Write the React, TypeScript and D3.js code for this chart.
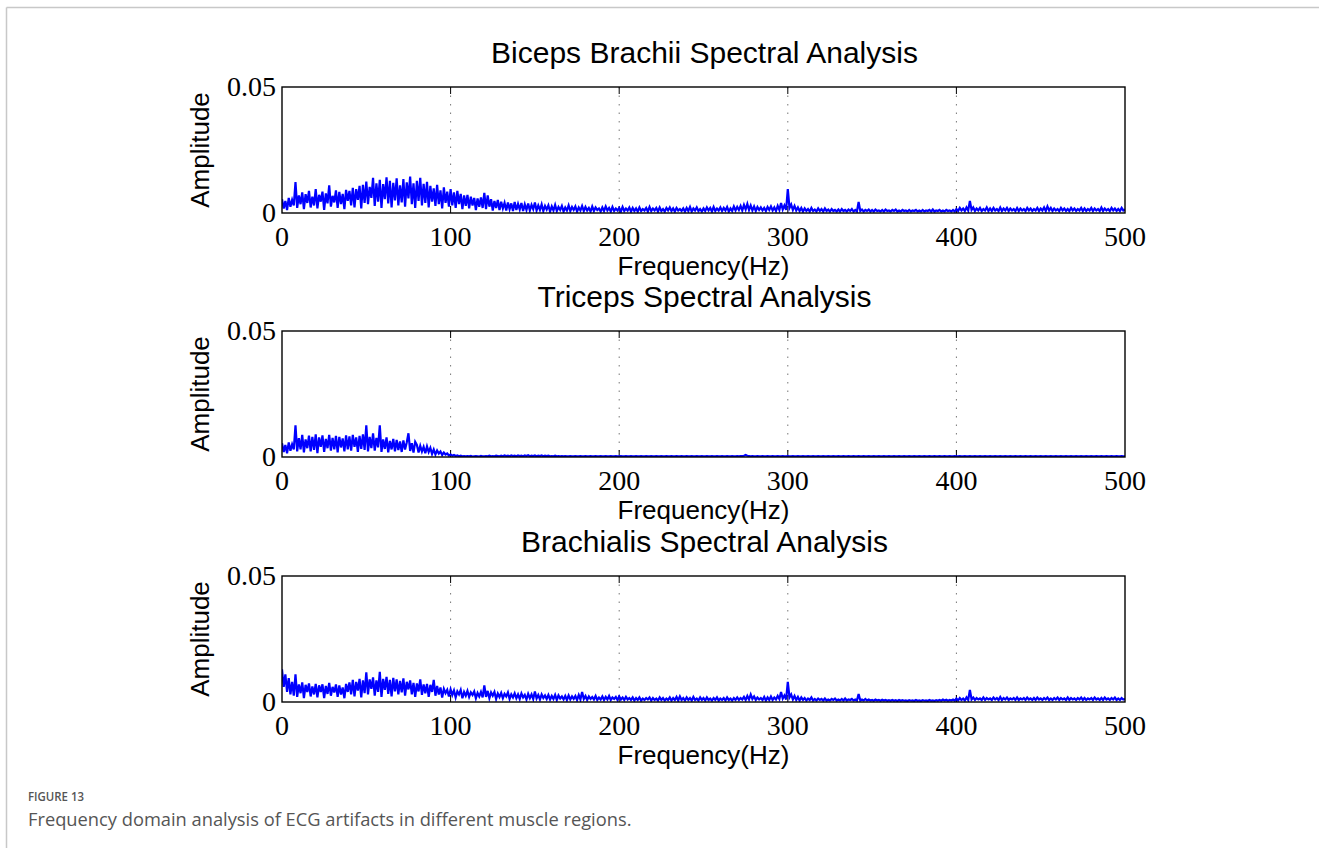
import React from "react";
import * as d3 from "d3";

// amplitude spectra, one value per Hz (0..500), in units of 1e-4
const bicepsAmp = [
  55, 18, 48, 12, 60, 25, 52, 30, 123, 20,
  70, 35, 82, 15, 75, 40, 88, 22, 65, 30,
  95, 18, 72, 45, 85, 12, 78, 38, 110, 25,
  68, 42, 90, 20, 84, 35, 76, 15, 92, 48,
  88, 30, 100, 22, 95, 52, 108, 18, 112, 40,
  125, 35, 104, 60, 140, 28, 118, 45, 132, 20,
  115, 55, 142, 38, 128, 22, 120, 50, 138, 30,
  110, 42, 135, 25, 122, 58, 145, 35, 118, 20,
  128, 48, 140, 30, 116, 40, 124, 22, 108, 45,
  98, 28, 112, 35, 90, 18, 102, 40, 85, 25,
  95, 30, 82, 20, 88, 35, 76, 15, 70, 28,
  72, 18, 65, 30, 60, 12, 58, 25, 62, 20,
  80, 15, 70, 25, 55, 10, 48, 20, 52, 12,
  45, 18, 40, 10, 42, 15, 38, 8, 44, 12,
  36, 14, 40, 8, 34, 12, 38, 10, 32, 15,
  42, 10, 30, 12, 34, 8, 28, 14, 30, 6,
  26, 10, 32, 8, 24, 12, 28, 6, 22, 10,
  30, 8, 24, 12, 26, 6, 22, 10, 28, 8,
  24, 10, 20, 6, 26, 8, 22, 12, 18, 6,
  22, 8, 26, 10, 20, 6, 24, 8, 18, 10,
  20, 6, 24, 8, 18, 10, 22, 6, 20, 8,
  18, 6, 22, 8, 16, 10, 20, 6, 24, 8,
  18, 10, 20, 6, 22, 8, 16, 6, 20, 10,
  22, 8, 18, 6, 20, 10, 16, 8, 18, 6,
  20, 8, 24, 6, 18, 10, 22, 8, 16, 6,
  18, 8, 22, 10, 20, 6, 24, 8, 18, 10,
  22, 8, 20, 10, 24, 6, 18, 8, 26, 10,
  24, 12, 28, 10, 32, 14, 36, 12, 30, 10,
  26, 8, 24, 12, 22, 10, 20, 8, 24, 12,
  26, 10, 22, 8, 28, 12, 40, 14, 30, 12,
  95, 20, 34, 12, 28, 10, 22, 8, 20, 6,
  18, 8, 16, 6, 20, 8, 14, 6, 18, 8,
  16, 6, 18, 8, 14, 6, 16, 8, 12, 6,
  14, 6, 16, 8, 12, 6, 14, 8, 16, 6,
  12, 6, 44, 8, 14, 6, 12, 8, 14, 6,
  12, 6, 14, 8, 10, 6, 12, 6, 14, 8,
  10, 6, 12, 8, 14, 6, 10, 6, 12, 8,
  10, 6, 12, 6, 10, 8, 12, 6, 10, 6,
  12, 6, 10, 8, 12, 6, 14, 6, 10, 8,
  12, 6, 10, 6, 12, 8, 10, 6, 12, 6,
  16, 8, 20, 10, 18, 8, 22, 10, 48, 12,
  22, 8, 18, 10, 20, 8, 16, 10, 22, 8,
  18, 8, 20, 10, 16, 8, 22, 8, 18, 10,
  20, 8, 18, 10, 16, 8, 20, 8, 18, 10,
  16, 8, 20, 10, 18, 8, 16, 10, 20, 8,
  18, 10, 22, 8, 26, 10, 20, 8, 18, 10,
  16, 8, 20, 10, 18, 8, 16, 8, 20, 10,
  18, 8, 16, 10, 20, 8, 18, 8, 16, 10,
  20, 8, 18, 10, 16, 8, 22, 8, 18, 10,
  16, 8, 20, 10, 18, 8, 16, 8, 20, 10,
  14,
];

const tricepsAmp = [
  55, 20, 48, 15, 58, 25, 50, 30, 126, 22,
  75, 30, 88, 18, 70, 35, 85, 22, 80, 28,
  90, 15, 78, 40, 86, 20, 72, 35, 88, 25,
  76, 30, 84, 18, 80, 38, 74, 22, 86, 30,
  82, 25, 88, 40, 78, 20, 84, 32, 90, 28,
  126, 22, 80, 35, 94, 25, 76, 38, 126, 20,
  70, 32, 78, 18, 64, 30, 72, 22, 68, 28,
  62, 20, 66, 30, 58, 94, 24, 55, 18, 60,
  48, 18, 44, 22, 40, 15, 42, 20, 36, 12,
  30, 10, 26, 14, 22, 8, 18, 10, 14, 6,
  10, 5, 8, 4, 6, 3, 5, 3, 4, 3,
  4, 3, 4, 2, 3, 4, 3, 2, 4, 3,
  3, 4, 3, 5, 3, 4, 3, 5, 4, 3,
  5, 3, 6, 4, 5, 3, 6, 4, 5, 3,
  6, 4, 5, 3, 6, 4, 7, 3, 5, 4,
  6, 3, 5, 4, 6, 3, 5, 4, 5, 3,
  4, 3, 5, 3, 4, 3, 4, 3, 4, 3,
  3, 4, 3, 3, 4, 3, 3, 4, 3, 3,
  4, 3, 3, 4, 3, 3, 4, 3, 3, 4,
  3, 3, 4, 3, 3, 4, 3, 3, 4, 3,
  3, 4, 3, 3, 4, 3, 3, 4, 3, 3,
  4, 3, 3, 4, 3, 3, 4, 3, 3, 4,
  3, 3, 4, 3, 3, 4, 3, 3, 4, 3,
  3, 4, 3, 3, 4, 3, 3, 4, 3, 3,
  4, 3, 3, 4, 3, 3, 4, 3, 3, 4,
  3, 3, 4, 3, 3, 4, 3, 3, 4, 3,
  3, 4, 3, 3, 4, 3, 3, 4, 3, 3,
  4, 3, 4, 4, 5, 8, 5, 4, 3, 4,
  3, 3, 4, 3, 3, 4, 3, 3, 4, 3,
  3, 4, 3, 3, 4, 3, 3, 4, 3, 3,
  4, 3, 3, 4, 3, 3, 4, 3, 3, 4,
  3, 3, 4, 3, 3, 4, 3, 3, 4, 3,
  3, 4, 3, 3, 4, 3, 3, 4, 3, 3,
  4, 3, 3, 4, 3, 3, 4, 3, 3, 4,
  3, 3, 4, 3, 3, 4, 3, 3, 4, 3,
  3, 4, 3, 3, 4, 3, 3, 4, 3, 3,
  4, 3, 3, 4, 3, 3, 4, 3, 3, 4,
  3, 3, 4, 3, 3, 4, 3, 3, 4, 3,
  3, 4, 3, 3, 4, 3, 3, 4, 3, 3,
  4, 3, 3, 4, 3, 3, 4, 3, 3, 4,
  3, 3, 4, 3, 3, 4, 3, 3, 4, 3,
  3, 4, 3, 3, 4, 3, 3, 4, 3, 3,
  4, 3, 3, 4, 3, 3, 4, 3, 3, 4,
  3, 3, 4, 3, 3, 4, 3, 3, 4, 3,
  3, 4, 3, 3, 4, 3, 3, 4, 3, 3,
  4, 3, 3, 4, 3, 3, 4, 3, 3, 4,
  3, 3, 4, 3, 3, 4, 3, 3, 4, 3,
  3, 4, 3, 3, 4, 3, 3, 4, 3, 3,
  4, 3, 3, 4, 3, 3, 4, 3, 3, 4,
  3, 3, 4, 3, 3, 4, 3, 3, 4, 3,
  3,
];

const brachialisAmp = [
  130, 60, 110, 40, 95, 30, 80, 25, 110, 20,
  70, 35, 78, 15, 68, 40, 74, 22, 62, 30,
  72, 18, 66, 40, 70, 15, 64, 32, 76, 25,
  60, 38, 70, 20, 66, 30, 58, 15, 72, 40,
  78, 30, 88, 22, 80, 45, 92, 18, 86, 35,
  118, 30, 90, 52, 98, 25, 86, 40, 120, 20,
  92, 48, 100, 32, 88, 22, 96, 42, 90, 30,
  84, 38, 94, 25, 80, 50, 86, 30, 76, 20,
  74, 42, 90, 28, 70, 35, 72, 20, 68, 40,
  88, 25, 64, 30, 58, 18, 52, 35, 48, 22,
  50, 28, 46, 18, 42, 30, 48, 15, 40, 25,
  44, 20, 38, 28, 42, 15, 36, 22, 40, 18,
  66, 20, 44, 15, 38, 25, 40, 12, 34, 20,
  36, 15, 32, 22, 38, 12, 30, 18, 34, 15,
  30, 12, 34, 18, 28, 10, 32, 15, 30, 12,
  42, 14, 28, 10, 30, 16, 26, 12, 28, 10,
  24, 12, 28, 8, 26, 14, 22, 10, 24, 8,
  26, 10, 22, 12, 24, 8, 28, 10, 40, 12,
  24, 8, 22, 12, 20, 10, 24, 8, 18, 10,
  22, 8, 20, 10, 24, 8, 18, 12, 20, 8,
  22, 10, 18, 8, 20, 10, 16, 8, 18, 6,
  16, 8, 18, 6, 14, 8, 16, 10, 18, 6,
  16, 8, 14, 6, 18, 8, 16, 6, 14, 8,
  18, 6, 16, 8, 20, 6, 22, 8, 16, 6,
  18, 8, 16, 6, 20, 8, 14, 6, 18, 8,
  16, 6, 18, 8, 14, 6, 16, 8, 18, 6,
  14, 8, 16, 6, 18, 8, 14, 6, 16, 8,
  18, 8, 16, 10, 20, 8, 24, 10, 30, 12,
  22, 8, 18, 10, 16, 8, 20, 6, 18, 8,
  22, 8, 18, 10, 24, 12, 40, 14, 26, 10,
  80, 18, 30, 10, 24, 8, 20, 6, 18, 8,
  16, 6, 14, 8, 18, 6, 12, 6, 14, 8,
  12, 6, 14, 6, 10, 6, 12, 8, 14, 6,
  10, 6, 12, 6, 14, 6, 10, 8, 12, 6,
  10, 6, 32, 6, 10, 6, 12, 6, 10, 6,
  8, 5, 10, 6, 8, 5, 9, 6, 8, 5,
  7, 5, 8, 5, 7, 4, 8, 5, 7, 5,
  6, 4, 7, 5, 6, 4, 8, 5, 6, 4,
  7, 5, 6, 4, 8, 5, 6, 4, 7, 5,
  8, 5, 10, 6, 9, 5, 8, 6, 10, 5,
  14, 6, 16, 8, 14, 6, 18, 8, 48, 10,
  18, 8, 16, 10, 14, 8, 18, 8, 16, 10,
  14, 8, 18, 10, 16, 8, 20, 8, 16, 10,
  18, 8, 14, 10, 16, 8, 18, 8, 14, 10,
  16, 8, 18, 10, 14, 8, 16, 8, 18, 10,
  14, 8, 16, 10, 18, 8, 14, 8, 16, 10,
  18, 8, 16, 10, 14, 8, 18, 8, 16, 10,
  14, 8, 16, 10, 18, 8, 16, 8, 14, 10,
  16, 8, 18, 10, 14, 8, 16, 8, 18, 10,
  14, 8, 16, 10, 18, 8, 14, 8, 16, 10,
  12,
];

const panelTitles = [
  "Biceps Brachii Spectral Analysis",
  "Triceps Spectral Analysis",
  "Brachialis Spectral Analysis",
];
const panelSeries = [bicepsAmp, tricepsAmp, brachialisAmp];
const xTicks = [0, 100, 200, 300, 400, 500];
const yTicks = [0, 0.05];
const ampUnit = 1e-4;

const W = 1319;
const H = 859;
const plotLeft = 282;
const plotRight = 1125;
const plotH = 126;
const panelTops = [87, 331, 576];

const sans = "'Liberation Sans', Arial, sans-serif";
const serif = "'Liberation Serif', 'Times New Roman', serif";

function Panel({ title, values, top, idx }: { title: string; values: number[]; top: number; idx: number }) {
  const x = d3.scaleLinear().domain([0, 500]).range([plotLeft, plotRight]);
  const y = d3.scaleLinear().domain([0, 0.05]).range([top + plotH, top]);
  const line = d3
    .line<number>()
    .x((_, i) => x(i))
    .y((d) => y(d * ampUnit));
  const bottom = top + plotH;
  const mid = (plotLeft + plotRight) / 2;
  return (
    <g>
      <text x={mid + 1} y={top - 24} textAnchor="middle" fontFamily={sans} fontSize={30} fill="#000">
        {title}
      </text>
      <defs>
        <clipPath id={`clip${idx}`}>
          <rect x={plotLeft} y={top} width={plotRight - plotLeft} height={plotH} />
        </clipPath>
      </defs>
      {xTicks.slice(1, -1).map((t) => (
        <g key={t}>
          <line x1={x(t)} x2={x(t)} y1={top} y2={bottom} stroke="#777" strokeWidth={1} strokeDasharray="1.5,7" />
          <line x1={x(t)} x2={x(t)} y1={top} y2={top + 7} stroke="#000" strokeWidth={1} />
          <line x1={x(t)} x2={x(t)} y1={bottom} y2={bottom - 7} stroke="#000" strokeWidth={1} />
        </g>
      ))}
      <path
        d={line(values) ?? ""}
        fill="none"
        stroke="#0000ff"
        strokeWidth={2.2}
        strokeLinejoin="miter"
        clipPath={`url(#clip${idx})`}
      />
      <rect x={plotLeft} y={top} width={plotRight - plotLeft} height={plotH} fill="none" stroke="#000" strokeWidth={1.4} />
      {yTicks.map((t) => (
        <text key={t} x={plotLeft - 6} y={y(t) + 9} textAnchor="end" fontFamily={serif} fontSize={28} fill="#000">
          {t === 0 ? "0" : "0.05"}
        </text>
      ))}
      {xTicks.map((t) => (
        <text key={t} x={x(t)} y={bottom + 33} textAnchor="middle" fontFamily={serif} fontSize={28} fill="#000">
          {t}
        </text>
      ))}
      <text x={mid} y={bottom + 62} textAnchor="middle" fontFamily={sans} fontSize={26} fill="#000">
        Frequency(Hz)
      </text>
      <text
        transform={`translate(209, ${top + plotH / 2}) rotate(-90)`}
        textAnchor="middle"
        fontFamily={sans}
        fontSize={26}
        fill="#000"
      >
        Amplitude
      </text>
    </g>
  );
}

export default function App() {
  return (
    <svg
      width={W}
      height={H}
      style={{ position: "absolute", left: 0, top: 0, background: "#fff" }}
    >
      <line x1={6.5} x2={W} y1={7.5} y2={7.5} stroke="#c8c8c8" strokeWidth={1.5} />
      <line x1={6.5} x2={6.5} y1={7.5} y2={848} stroke="#c8c8c8" strokeWidth={1.5} />
      {panelTitles.map((t, i) => (
        <Panel key={t} title={t} values={panelSeries[i]} top={panelTops[i]} idx={i} />
      ))}
      <text
        x={28}
        y={801}
        fontFamily="'Open Sans', sans-serif"
        fontSize={13}
        fontWeight={600}
        fill="#555"
        textLength={56}
        lengthAdjust="spacingAndGlyphs"
      >
        FIGURE 13
      </text>
      <text x={28} y={826} fontFamily="'Open Sans', sans-serif" fontSize={18.3} fill="#555">
        Frequency domain analysis of ECG artifacts in different muscle regions.
      </text>
    </svg>
  );
}
